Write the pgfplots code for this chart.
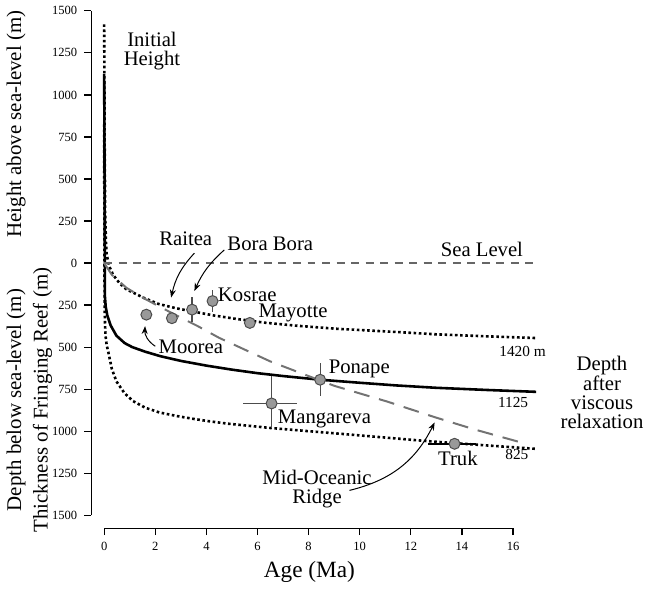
\documentclass[border=0pt]{standalone}
\usepackage{fontspec}
\setmainfont{Liberation Serif}
\usepackage{pgfplots}
\pgfplotsset{compat=1.18}
\usetikzlibrary{arrows.meta}
\definecolor{ptfill}{gray}{0.6}
\definecolor{ptline}{gray}{0.3}
\definecolor{ridge}{gray}{0.45}
\definecolor{sealine}{gray}{0.4}

\tikzset{
    annot/.style={font=\fontsize{10.4}{9.6}\selectfont},
    endlab/.style={font=\fontsize{7.7}{8}\selectfont},
    ytitle/.style={font=\fontsize{10.5}{11}\selectfont, rotate=90},
    pointer/.style={-{Stealth[length=4pt,width=3pt]}, line width=0.5pt},
}

\begin{document}
\begin{tikzpicture}
\begin{axis}[
    scale only axis, width=205.5pt, height=253.5pt,
    xmin=0, xmax=16, ymin=-1500, ymax=1500,
    axis lines=left, axis line style={-, line width=0.6pt},
    axis line shift=6.5pt,
    tick align=outside, major tick length=3.5pt,
    tick style={line width=0.6pt, black},
    xtick={0,2,...,16},
    ytick={-1500,-1250,...,1500},
    yticklabels={1500,1250,1000,750,500,250,0,250,500,750,1000,1250,1500},
    ticklabel style={font=\fontsize{6.3}{7}\selectfont},
    /pgf/number format/assume math mode=true,
    clip=false,
]
% 1420 m
\addplot[black, line width=1.3pt, dash pattern=on 1.3pt off 1.3pt] coordinates {
    (0,1420)(0.02,700)(0.04,300)(0.07,120)(0.1,50)(0.2,-20)(0.35,-70)(0.6,-120)
    (0.87,-156)(1.52,-205)(2.14,-244)(2.79,-268)(3.46,-288)(4.3,-312)(5.2,-333)
    (6.3,-355)(7.55,-373)(9.1,-391)(11.44,-410)(13,-424)(15,-436)(16.9,-446)};
% 825
\addplot[black, line width=1.3pt, dash pattern=on 1.3pt off 1.3pt] coordinates {
    (0,825)(0.01,0)(0.02,-300)(0.05,-430)(0.1,-490)(0.16,-528)(0.3,-630)(0.48,-704)
    (0.8,-775)(1.13,-821)(1.6,-860)(2.17,-889)(2.88,-911)(3.46,-926)(4.11,-941)
    (4.82,-955)(6.51,-981)(8,-1000)(9.37,-1017)(11,-1038)(12.48,-1057)(13.7,-1071)
    (15,-1085)(16.9,-1105)};
% 1125
\addplot[black, line width=1.3pt] coordinates {
    (0,1125)(0.02,300)(0.03,-200)(0.06,-260)(0.12,-310)(0.25,-370)(0.48,-432)
    (0.8,-476)(1.1,-500)(1.6,-527)(2.2,-554)(3.0,-582)(4.0,-610)(5.0,-634)
    (6.0,-655)(7.0,-672)(8.45,-694)(10,-712)(11.44,-728)(13,-742)(15,-755)(16.9,-766)};
% sea level
\addplot[sealine, line width=0.7pt, dash pattern=on 4pt off 3.3pt] coordinates {(0,0)(16.9,0)};
% mid-oceanic ridge
\addplot[ridge, line width=1pt, dash pattern=on 8pt off 5pt] coordinates {
    (0,0)(0.3,-70)(0.87,-147)(1.5,-205)(2.1,-254)(3.0,-325)(3.66,-375)(4.5,-445)
    (5.5,-515)(6.5,-585)(7.7,-655)(9.0,-730)(11.1,-825)(12.9,-915)(14.5,-990)(16.5,-1075)};

% error bars
\addplot[only marks, mark=none,
    error bars/.cd, x dir=both, x explicit, y dir=both, y explicit,
    error mark=none, error bar style={line width=0.6pt, ptline}] coordinates {
    (3.44,-277) +- (0,76)
    (4.24,-226) +- (0,66)
    (8.45,-694) +- (0,98)
    (6.55,-835) += (1.0,161) -= (1.1,146)
};
\addplot[only marks, mark=none,
    error bars/.cd, x dir=both, x explicit,
    error mark=none, error bar style={line width=1pt, black}] coordinates {
    (13.71,-1075) += (0.84,0) -= (1.04,0)
};
% islands
\addplot[only marks, mark=*, mark size=2.75pt,
    mark options={fill=ptfill, draw=ptline, line width=0.5pt}] coordinates {
    (1.65,-307)(2.65,-328)(3.44,-277)(4.24,-226)(5.7,-356)
    (8.45,-694)(6.55,-835)(13.71,-1075)};

% text
\node[annot, align=center] at (axis cs:1.87,1259) {Initial\\Height};
\node[annot] at (axis cs:3.19,144) {Raitea};
\node[annot] at (axis cs:6.5,115) {Bora Bora};
\node[annot] at (axis cs:5.6,-190) {Kosrae};
\node[annot] at (axis cs:7.39,-295) {Mayotte};
\node[annot] at (axis cs:3.39,-500) {Moorea};
\node[annot] at (axis cs:9.98,-629) {Ponape};
\node[annot] at (axis cs:8.62,-929) {Mangareva};
\node[annot] at (axis cs:13.84,-1163) {Truk};
\node[annot] at (axis cs:14.78,80) {Sea Level};
\node[annot, align=center] at (axis cs:8.33,-1345) {Mid-Oceanic\\Ridge};
\node[annot, align=center] at (axis cs:19.48,-770) {Depth\\after\\viscous\\relaxation};
\node[endlab] at (axis cs:16.37,-528) {1420 m};
\node[endlab] at (axis cs:16.0,-830) {1125};
\node[endlab] at (axis cs:16.15,-1140) {825};

% arrows
\draw[pointer] (axis cs:3.53,59) to[bend right=15] (axis cs:2.62,-205);
\draw[pointer] (axis cs:4.7,78) to[bend right=12] (axis cs:3.53,-166);
\draw[pointer] (axis cs:2.0,-495) to[bend left=30] (axis cs:1.6,-375);
\draw[pointer] (axis cs:9.6,-1352) to[bend right=25] (axis cs:12.93,-948);

% axis titles
\node[ytitle] at ([xshift=-44.25pt]axis cs:0,827) {Height above sea-level (m)};
\node[ytitle] at ([xshift=-44.25pt]axis cs:0,-815) {Depth below sea-level (m)};
\node[ytitle] at ([xshift=-31pt]axis cs:0,-815) {Thickness of Fringing Reef (m)};
\node[font=\fontsize{11.7}{13}\selectfont] at ([yshift=-28.25pt]axis cs:8.03,-1500) {Age (Ma)};
\end{axis}
\end{tikzpicture}
\end{document}
